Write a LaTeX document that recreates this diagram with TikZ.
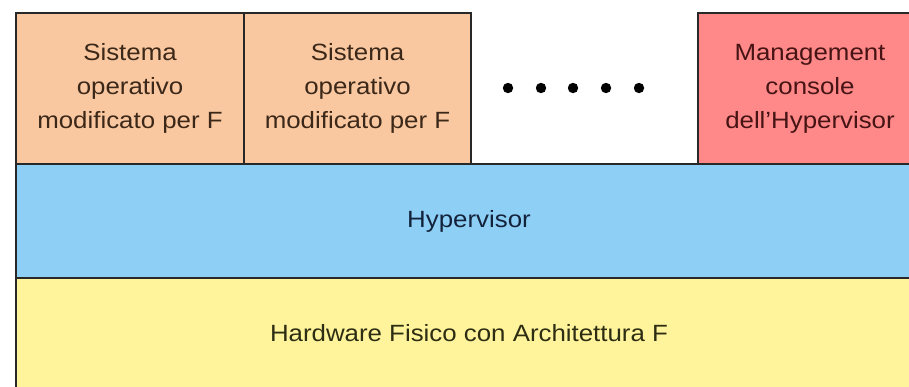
\documentclass[tikz,border=0pt]{standalone}
\usepackage{fontspec}
\setmainfont[FakeStretch=1.1]{Liberation Sans}
\definecolor{osfill}{RGB}{249,200,160}
\definecolor{mgfill}{RGB}{255,136,136}
\definecolor{hypfill}{RGB}{142,207,245}
\definecolor{hwfill}{RGB}{255,244,155}
\definecolor{edge}{RGB}{40,40,40}
\definecolor{ostext}{RGB}{60,40,25}
\definecolor{mgtext}{RGB}{70,20,20}
\definecolor{hyptext}{RGB}{20,35,60}
\definecolor{hwtext}{RGB}{45,45,20}
\tikzset{
  layer/.style={draw=edge, line width=2pt, anchor=north west, inner sep=0pt,
    align=center, font=\fontsize{23.5}{34}\selectfont},
}
\begin{document}
\begin{tikzpicture}[x=1pt,y=-1pt]
\useasboundingbox (0,0) rectangle (909,386);
\clip (0,0) rectangle (909,386);
\fill[white] (0,0) rectangle (909,386);
\node[layer, fill=hwfill, text=hwtext, minimum width=906pt, minimum height=110pt] (hw) at (15,277) {Hardware Fisico con Architettura F};
\node[layer, fill=hypfill, text=hyptext, minimum width=906pt, minimum height=114pt] (hyp) at (15,163) {Hypervisor};
\node[layer, fill=osfill, text=ostext, minimum width=228pt, minimum height=151pt] (os1) at (15,12) {Sistema\\operativo\\modificato per F};
\node[layer, fill=osfill, text=ostext, minimum width=227pt, minimum height=151pt] (os2) at (243,12) {Sistema\\operativo\\modificato per F};
\node[layer, fill=mgfill, text=mgtext, minimum width=224pt, minimum height=151pt] (mg) at (697,12) {Management\\console\\dell’Hypervisor};
\foreach \i/\x in {1/508,2/541,3/573,4/606,5/639}
  \fill[black] (\x,88) circle (5.2pt) coordinate (dot\i);
\end{tikzpicture}
\end{document}
